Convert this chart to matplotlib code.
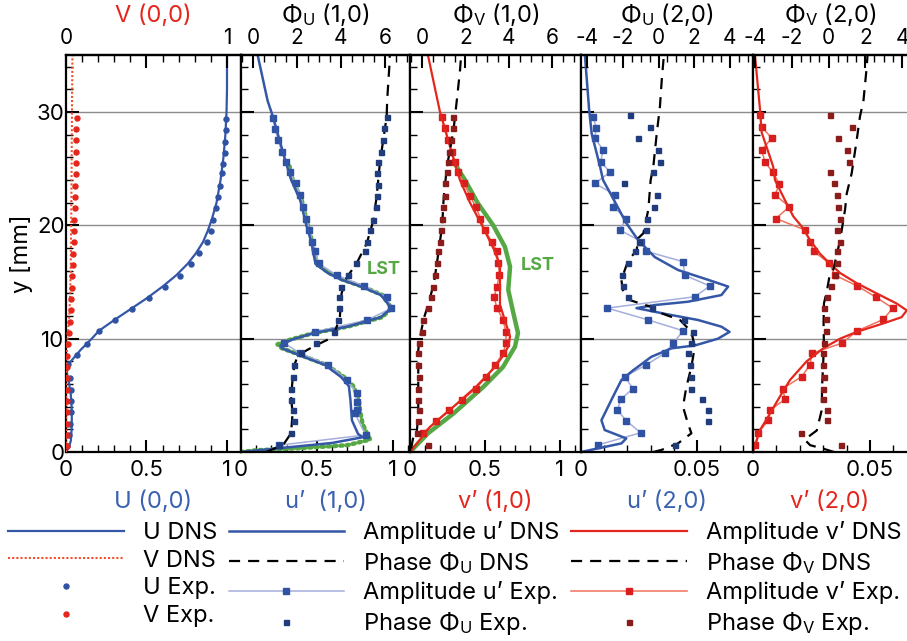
import matplotlib
matplotlib.use('Agg')
import matplotlib.pyplot as plt
from matplotlib.ticker import MultipleLocator

plt.rcParams['font.family'] = ['Inter', 'DejaVu Sans']
plt.rcParams['mathtext.fontset'] = 'custom'
plt.rcParams['mathtext.rm'] = 'Inter'
plt.rcParams['mathtext.it'] = 'Inter:italic'
plt.rcParams['mathtext.bf'] = 'Inter:bold'
plt.rcParams['axes.unicode_minus'] = False

# ---------------- data ----------------
# panel 1: mean flow U(0,0) (bottom axis) and V(0,0) (top axis)
u_dns_y = [0, 0.5, 1, 2, 3, 4, 5, 6, 6.5, 7, 7.5, 8, 8.5, 9, 9.5, 10, 10.7, 11.6, 12.6, 13.6,
           14.6, 15.6, 16.6, 17.5, 18.5, 19.5, 20.5, 22, 24, 26, 28, 30, 32, 35]
u_dns = [0, 0.02, 0.03, 0.035, 0.036, 0.035, 0.03, 0.02, 0.012, 0.006, 0.01, 0.03, 0.06, 0.09,
         0.125, 0.16, 0.205, 0.295, 0.4, 0.505, 0.6, 0.685, 0.755, 0.805, 0.85, 0.88, 0.905,
         0.935, 0.96, 0.978, 0.99, 0.997, 1.0, 1.0]
u_exp_y = [0.5, 1.5, 2.5, 3.5, 4.5, 5.5, 6.5, 7.8, 8.6, 9.5, 10.7, 11.65, 12.6, 13.6, 14.6, 15.55,
           16.55, 17.55, 18.55, 19.5, 20.5, 21.5, 22.5, 23.5, 24.6, 25.4, 26.4, 27.4, 28.4, 29.4]
u_exp = [0.005, 0.02, 0.025, 0.028, 0.03, 0.028, 0.022, 0.015, 0.066, 0.13, 0.205, 0.304, 0.408,
         0.516, 0.615, 0.708, 0.774, 0.826, 0.874, 0.899, 0.915, 0.93, 0.946, 0.956, 0.97, 0.975,
         0.985, 0.99, 0.995, 0.995]
v_dns_y = [0, 6, 8, 9, 10, 11, 12, 14, 16, 20, 25, 30, 35]
v_dns = [0, 0.001, 0.003, 0.006, 0.01, 0.015, 0.02, 0.026, 0.029, 0.032, 0.035, 0.037, 0.04]
v_exp_y = [0.5, 1.5, 2.5, 3.5, 4.5, 5.5, 6.5, 7.5, 8.5, 9.5, 10.5, 11.5, 12.5, 13.5, 14.5, 15.5,
           16.5, 17.5, 18.5, 19.5, 20.5, 21.5, 22.5, 23.5, 24.5, 25.5, 26.5, 27.5, 28.5, 29.5]
v_exp = [0.004, 0.004, 0.004, 0.004, 0.004, 0.004, 0.004, 0.004, 0.008, 0.014, 0.02, 0.026, 0.03,
         0.033, 0.035, 0.038, 0.041, 0.044, 0.047, 0.05, 0.052, 0.054, 0.056, 0.058, 0.06, 0.061,
         0.062, 0.063, 0.064, 0.066]

# panel 2: mode (1,0), u' amplitude (bottom) and phase Phi_U (top)
ua1_dns_y = [0, 0.4, 0.8, 1.3, 1.6, 2.8, 4.6, 5.8, 6.6, 7.7, 8.56, 9.15, 9.4, 9.9, 10.5, 11.06,
             11.9, 12.7, 13.85, 14.6, 15.2, 15.8, 16.6, 18.7, 20, 22.2, 24, 25.8, 29.6, 31, 35]
ua1_dns = [0, 0.3, 0.6, 0.8, 0.77, 0.73, 0.72, 0.71, 0.66, 0.55, 0.38, 0.27, 0.26, 0.33, 0.48,
           0.70, 0.92, 0.99, 0.92, 0.79, 0.66, 0.57, 0.49, 0.46, 0.43, 0.39, 0.33, 0.29, 0.21,
           0.175, 0.11]
ua1_lst_y = [0, 0.15, 0.35, 0.6, 1.1, 1.6, 2.5, 3.5, 4.6, 5.8, 6.6, 7.7, 8.56, 9.15, 9.5, 9.9,
             10.5, 11.06, 11.9, 12.7, 13.85, 14.6, 15.2, 15.8, 16.6, 18.7, 20, 22.2, 24, 25.2]
ua1_lst = [0, 0.1, 0.4, 0.7, 0.85, 0.83, 0.80, 0.785, 0.775, 0.74, 0.68, 0.56, 0.39, 0.27, 0.24,
           0.32, 0.48, 0.70, 0.93, 0.99, 0.93, 0.80, 0.67, 0.58, 0.5, 0.465, 0.44, 0.40, 0.34, 0.32]
ua1_exp_y = [0.6, 1.5, 3.4, 3.7, 4.45, 5.2, 6.35, 7.7, 8.7, 9.6, 10.6, 11.65, 12.68, 13.65, 14.65,
             15.6, 16.65, 17.7, 18.56, 19.6, 20.6, 21.6, 22.7, 23.7, 24.7, 25.6, 26.5, 27.5, 28.5,
             29.5]
ua1_exp = [0.25, 0.82, 0.75, 0.76, 0.76, 0.76, 0.70, 0.57, 0.39, 0.285, 0.49, 0.83, 0.99, 0.96,
           0.81, 0.63, 0.51, 0.49, 0.47, 0.45, 0.43, 0.41, 0.39, 0.36, 0.32, 0.294, 0.268, 0.245,
           0.226, 0.21]
pu1_dns_y = [0, 0.3, 0.76, 1.65, 3.4, 4.9, 6.35, 7.7, 8.56, 9.3, 10.15, 11.9, 14, 15.4, 16.6,
             18.4, 20.4, 22.5, 25.5, 27.5, 29.6, 31, 34, 35]
pu1_dns = [0.6, 0.97, 1.42, 1.73, 1.8, 1.73, 1.8, 1.88, 2.06, 2.74, 3.65, 3.95, 4.03, 4.26, 4.7,
           5.17, 5.47, 5.62, 5.77, 5.92, 6.08, 6.1, 6.2, 6.22]
pu1_exp_y = [0.6, 1.65, 2.7, 3.7, 4.6, 5.6, 6.65, 7.7, 8.7, 9.6, 10.6, 11.65, 12.7, 13.7, 14.6,
             15.6, 16.65, 17.7, 18.56, 19.6, 20.5, 21.6, 22.6, 23.6, 24.6, 25.6, 26.5, 27.5, 28.6,
             29.6]
pu1_exp = [1.2, 1.73, 1.85, 1.8, 1.73, 1.73, 1.8, 1.88, 2.18, 2.86, 3.7, 3.88, 3.9, 3.9, 4.0, 4.3,
           4.68, 5.1, 5.18, 5.33, 5.48, 5.6, 5.63, 5.67, 5.62, 5.7, 5.8, 5.9, 5.95, 6.08]

# panel 3: mode (1,0), v' amplitude (bottom) and phase Phi_V (top)
va1_dns_y = [0, 2.2, 4.0, 5.76, 7.5, 8.5, 9.3, 10.2, 11.6, 13, 14, 16.5, 18, 20, 22, 24, 25, 30, 35]
va1_dns = [0, 0.133, 0.29, 0.44, 0.567, 0.62, 0.655, 0.667, 0.633, 0.6, 0.6, 0.6, 0.555, 0.48,
           0.4, 0.333, 0.31, 0.2, 0.12]
va1_lst_y = [0, 1.65, 3.4, 5.76, 7.5, 9.3, 10.5, 12.2, 14.3, 16.35, 18.1, 20, 22, 24, 25.2]
va1_lst = [0, 0.12, 0.29, 0.49, 0.62, 0.70, 0.72, 0.69, 0.655, 0.667, 0.633, 0.555, 0.45, 0.367,
           0.31]
va1_exp_y = [1.65, 2.7, 3.7, 4.6, 5.6, 6.65, 7.7, 8.7, 9.6, 10.6, 11.65, 12.7, 13.65, 14.6, 15.6,
             16.65, 17.7, 18.56, 19.6, 20.6, 21.6, 22.6, 23.7, 24.7, 25.6, 26.5, 27.5, 28.6, 29.6]
va1_exp = [0.084, 0.17, 0.26, 0.35, 0.44, 0.51, 0.567, 0.62, 0.64, 0.64, 0.62, 0.58, 0.56, 0.58,
           0.595, 0.59, 0.58, 0.544, 0.5, 0.47, 0.44, 0.40, 0.36, 0.32, 0.30, 0.278, 0.255, 0.233,
           0.21]
pv1_dns_y = [0.3, 1.3, 1.7, 3.4, 6, 9, 10, 11, 12, 13.1, 14.9, 17.5, 20, 22.5, 25.2, 28.4, 31,
             33.7, 35]
pv1_dns = [-0.5, -0.4, -0.24, -0.17, -0.17, -0.17, -0.1, 0.0, 0.12, 0.3, 0.55, 0.75, 0.93, 1.0,
           1.15, 1.45, 1.6, 1.75, 1.8]
pv1_exp_y = [0.6, 1.65, 2.7, 3.7, 4.6, 5.6, 6.65, 7.7, 8.7, 9.6, 10.6, 11.65, 12.7, 13.65, 14.6,
             15.6, 16.65, 17.7, 18.56, 19.6, 20.6, 21.6, 22.6, 23.7, 24.7, 25.6, 26.5, 27.5, 28.6,
             29.6]
pv1_exp = [0.29, -0.25, -0.2, -0.15, -0.17, -0.2, -0.15, -0.17, -0.2, -0.12, -0.02, 0.06, 0.3,
           0.4, 0.5, 0.6, 0.68, 0.75, 0.82, 0.88, 0.9, 0.98, 1.06, 1.06, 1.14, 1.2, 1.26, 1.35,
           1.44, 1.44]

# panel 4: mode (2,0), u' amplitude (bottom) and phase Phi_U (top)
ua2_dns_y = [0, 0.32, 0.76, 1.2, 1.94, 2.8, 4.6, 6.35, 7.2, 8.4, 9.15, 9.4, 10.0, 10.6, 11.06,
             11.65, 12.2, 12.7, 12.97, 13.26, 13.85, 14.6, 15.2, 16.06, 17.2, 18.7, 20.2, 22.5,
             24, 25.2, 28.1, 30.2, 35]
ua2_dns = [0, 0.0073, 0.0174, 0.0195, 0.0102, 0.0088, 0.0131, 0.0174, 0.0224, 0.0303, 0.039,
           0.049, 0.059, 0.064, 0.0605, 0.0504, 0.036, 0.0239, 0.0318, 0.046, 0.0605, 0.0634,
           0.0547, 0.0418, 0.0318, 0.0246, 0.0195, 0.0135, 0.0095, 0.0082, 0.0046, 0.0035, 0.0017]
ua2_exp_y = [0.62, 1.7, 2.76, 3.7, 4.65, 5.6, 6.65, 7.7, 8.7, 9.6, 10.7, 11.65, 12.7, 13.7, 14.65,
             15.6, 16.8, 17.7, 18.56, 19.6, 20.6, 21.6, 22.7, 23.7, 24.7, 25.6, 26.65, 27.7, 28.6,
             29.6]
ua2_exp = [0.0073, 0.0257, 0.0195, 0.0157, 0.0171, 0.0224, 0.0188, 0.0282, 0.036, 0.0397, 0.044,
           0.029, 0.0114, 0.049, 0.0555, 0.0447, 0.044, 0.0282, 0.026, 0.0167, 0.0195, 0.0140,
           0.0147, 0.006, 0.0125, 0.0085, 0.0095, 0.006, 0.0065, 0.0053]
pu2_dns_y = [0, 0.18, 0.76, 1.65, 2.5, 4.0, 5.76, 7.5, 9.3, 10.2, 11.0, 11.65, 12.5, 12.8, 13.4,
             14.3, 15.2, 16.9, 17.8, 18.85, 19.3, 21.4, 24, 25.2, 28.1, 30.5, 32.8, 35]
pu2_dns = [-0.3, 0.16, 1.09, 1.84, 1.65, 1.37, 1.56, 1.84, 2.03, 1.9, 1.6, 1.2, -0.29, -0.4, -1.6,
           -2.0, -2.08, -1.7, -1.22, -1.15, -0.85, -0.57, -0.44, -0.29, -0.1, 0.08, 0.18, 0.3]
pu2_exp_y = [0.62, 2.76, 3.7, 4.65, 5.6, 6.65, 7.7, 8.7, 9.6, 10.6, 11.65, 12.7, 13.7, 14.65, 15.6,
             16.65, 17.7, 18.56, 19.6, 20.6, 21.6, 22.7, 23.7, 24.7, 25.6, 26.65, 27.7, 28.7, 29.7]
pu2_exp = [0.9, 2.77, 2.77, 2.44, 1.84, 1.8, 1.75, 1.65, 1.8, 1.93, 1.43, -0.35, -1.7, -2.0, -2.05,
           -1.7, -1.3, -1.1, -0.68, -0.66, -0.27, -0.1, -1.95, -0.29, 0.08, -0.01, -1.13, -0.48,
           -1.6]

# panel 5: mode (2,0), v' amplitude (bottom) and phase Phi_V (top)
va2_dns_y = [0, 1.94, 3.4, 4.9, 6.35, 8.0, 9.15, 10.0, 10.6, 11.35, 11.9, 12.5, 13.1, 14.0, 14.9,
             15.8, 16.6, 17.5, 18.7, 19.9, 20.8, 22.2, 24, 25.2, 26.5, 28.2, 30.2, 35]
va2_dns = [0, 0.003, 0.0073, 0.0115, 0.0158, 0.0229, 0.030, 0.0372, 0.0443, 0.0557, 0.0635,
           0.0657, 0.0614, 0.0528, 0.0443, 0.0372, 0.033, 0.0286, 0.0244, 0.0208, 0.0172, 0.0137,
           0.0094, 0.0086, 0.0065, 0.0037, 0.003, 0.00085]
va2_exp_y = [0.6, 1.7, 2.8, 3.7, 4.65, 5.6, 6.65, 7.7, 8.7, 9.6, 10.7, 11.7, 12.7, 13.65, 14.65,
             15.6, 16.65, 17.7, 18.56, 19.6, 20.6, 21.65, 22.7, 23.65, 24.7, 25.6, 26.65, 27.7,
             28.7, 29.7]
va2_exp = [0.0009, 0.0023, 0.0066, 0.0073, 0.0137, 0.0127, 0.0208, 0.0244, 0.0251, 0.0379, 0.0446,
           0.0557, 0.0597, 0.0526, 0.0446, 0.035, 0.0326, 0.026, 0.0244, 0.0222, 0.0098, 0.0155,
           0.0094, 0.0113, 0.0084, 0.0051, 0.0037, 0.0080, 0.0037, 0.003]
pv2_dns_y = [0, 0.3, 0.6, 1.1, 1.9, 3.7, 5.8, 9.3, 11.4, 13.1, 14.3, 15.5, 16.1, 18.7, 21.4, 22.8,
             24.6, 27.5, 29.6, 31, 34, 35]
pv2_dns = [0.3, -0.3, -1.0, -1.3, -0.64, -0.37, -0.35, -0.25, -0.27, -0.25, -0.08, 0.05, 0.26,
           0.63, 0.9, 0.99, 1.26, 1.53, 1.71, 1.9, 2.08, 2.12]
pv2_exp_y = [0.6, 1.65, 2.8, 3.7, 4.65, 5.6, 6.65, 7.7, 8.7, 9.6, 10.7, 11.7, 12.7, 13.65, 14.65,
             15.6, 16.65, 17.7, 18.56, 19.6, 20.6, 21.6, 22.7, 23.7, 24.7, 25.6, 26.65, 27.7, 28.7,
             29.7]
pv2_exp = [0.66, -1.5, -0.1, -0.1, -0.28, -0.32, -0.24, -0.32, -0.28, -0.24, -0.13, -0.13, -0.24,
           -0.06, 0.12, 0.36, 0.48, 0.48, 0.63, 0.45, 0.6, 0.53, 0.45, 0.28, 0.08, 1.13, 1.02,
           0.53, 1.26, 0.08]

# ---------------- styling ----------------
BLUE = '#3557a7'
BLUE_LIGHT = '#a6aedb'
BLUE_MARK = '#2f52a3'
BLUE_PHASE = '#203c7c'
RED = '#e4261c'
RED_LIGHT = '#f0705c'
RED_MARK = '#d81e1e'
RED_PHASE = '#8a1c1c'
GREEN = '#56a845'
DASH = (5, 3.6)

W, H = 907, 641
panel_px = [(66, 241), (241, 410), (410, 581), (581, 753), (753, 907)]
bot_lims = [(0, 1.087), (0, 1.112), (0, 1.14), (0, 0.0741), (0, 0.0658)]
top_lims = [(0, 1.087), (-0.545, 7.14), (-0.55, 7.31), (-4.34, 5.29), (-4.11, 4.27)]
y0 = 1 - 452 / H
hgt = (452 - 55.4) / H

fig = plt.figure(figsize=(W / 100, H / 100), dpi=100)
axes, tops = [], []
for i, (a, b) in enumerate(panel_px):
    ax = fig.add_axes([a / W, y0, (b - a) / W, hgt])
    ax.set_xlim(*bot_lims[i])
    ax.set_ylim(0, 35)
    ax.yaxis.set_major_locator(MultipleLocator(10))
    ax.yaxis.set_minor_locator(MultipleLocator(2))
    ax.grid(axis='y', which='major', color='#8c8c8c', lw=1.0, zorder=0)
    ax.set_axisbelow(True)
    for s in ax.spines.values():
        s.set_linewidth(1.6)
    if i == 4:
        ax.spines['right'].set_visible(False)
    ax.tick_params(which='major', direction='in', length=9, width=1.5, labelsize=16,
                   top=False, right=False, pad=6)
    ax.tick_params(which='minor', direction='in', length=5, width=1.0, top=False, right=False)
    ax.tick_params(axis='y', pad=1)
    if i > 0:
        ax.tick_params(axis='y', labelleft=False)
    tx = ax.twiny()
    tx.set_xlim(*top_lims[i])
    for side in ('left', 'right', 'bottom'):
        tx.spines[side].set_visible(False)
    tx.spines['top'].set_linewidth(1.6)
    tx.tick_params(which='major', direction='in', length=9, width=1.5, labelsize=15, pad=5)
    tx.tick_params(which='minor', direction='in', length=5, width=1.0)
    axes.append(ax)
    tops.append(tx)

# tick layout
for ax in axes[:3]:
    ax.set_xticks([0, 0.5, 1], ['0', '0.5', '1'])
    ax.xaxis.set_minor_locator(MultipleLocator(0.1))
for ax in axes[3:]:
    ax.set_xticks([0, 0.05], ['0', '0.05'])
    ax.xaxis.set_minor_locator(MultipleLocator(0.01))
tops[0].set_xticks([0, 0.5, 1], ['0', '', '1'])
tops[0].xaxis.set_minor_locator(MultipleLocator(0.1))
for tx in tops[1:3]:
    tx.set_xticks([0, 2, 4, 6])
    tx.xaxis.set_minor_locator(MultipleLocator(0.5))
for tx in tops[3:]:
    tx.set_xticks([-4, -2, 0, 2, 4])
    tx.xaxis.set_minor_locator(MultipleLocator(0.5))

# ---------------- curves ----------------
a1, a2, a3, a4, a5 = axes
t1, t2, t3, t4, t5 = tops

h_udns, = a1.plot(u_dns, u_dns_y, color=BLUE, lw=1.6, label='U DNS')
h_uexp, = a1.plot(u_exp, u_exp_y, ls='none', marker='o', ms=3.6, color=BLUE_MARK, label='U Exp.')
h_vdns, = t1.plot(v_dns, v_dns_y, color='#f0502e', lw=1.5, ls=(0, (1, 1)), label='V DNS')
h_vexp, = t1.plot(v_exp, v_exp_y, ls='none', marker='o', ms=3.6, color=RED, label='V Exp.')

a2.plot(ua1_lst, ua1_lst_y, color=GREEN, lw=3.2, ls=(0, (0.5, 0.9)), dash_capstyle='round')
h_ua_exp, = a2.plot(ua1_exp, ua1_exp_y, color=BLUE_LIGHT, lw=1.1, marker='s', ms=4.2,
                    mfc=BLUE_MARK, mec=BLUE_MARK, label='Amplitude u’ Exp.')
h_ua_dns, = a2.plot(ua1_dns, ua1_dns_y, color=BLUE, lw=1.8, label='Amplitude u’ DNS')
h_pu_dns, = t2.plot(pu1_dns, pu1_dns_y, color='black', lw=1.6, ls=(0, DASH),
                    label='Phase $\\Phi_\\mathrm{U}$ DNS')
h_pu_exp, = t2.plot(pu1_exp, pu1_exp_y, ls='none', marker='s', ms=3.6, color=BLUE_PHASE,
                    label='Phase $\\Phi_\\mathrm{U}$ Exp.')
a2.text(0.94, 16.1, 'LST', color=GREEN, fontsize=13, fontweight='bold', ha='center', va='center')

a3.plot(va1_lst, va1_lst_y, color=GREEN, lw=3.2)
h_va_exp, = a3.plot(va1_exp, va1_exp_y, color=RED_LIGHT, lw=1.1, marker='s', ms=4.2,
                    mfc=RED_MARK, mec=RED_MARK, label='Amplitude v’ Exp.')
h_va_dns, = a3.plot(va1_dns, va1_dns_y, color=RED, lw=1.6, label='Amplitude v’ DNS')
h_pv_dns, = t3.plot(pv1_dns, pv1_dns_y, color='black', lw=1.6, ls=(0, DASH),
                    label='Phase $\\Phi_\\mathrm{V}$ DNS')
h_pv_exp, = t3.plot(pv1_exp, pv1_exp_y, ls='none', marker='s', ms=3.6, color=RED_PHASE,
                    label='Phase $\\Phi_\\mathrm{V}$ Exp.')
a3.text(0.85, 16.5, 'LST', color=GREEN, fontsize=13, fontweight='bold', ha='center', va='center')

a4.plot(ua2_exp, ua2_exp_y, color=BLUE_LIGHT, lw=1.1, marker='s', ms=4.2, mfc=BLUE_MARK,
        mec=BLUE_MARK)
a4.plot(ua2_dns, ua2_dns_y, color=BLUE, lw=1.8)
t4.plot(pu2_dns, pu2_dns_y, color='black', lw=1.6, ls=(0, DASH))
t4.plot(pu2_exp, pu2_exp_y, ls='none', marker='s', ms=3.6, color=BLUE_PHASE)

a5.plot(va2_exp, va2_exp_y, color=RED_LIGHT, lw=1.1, marker='s', ms=4.2, mfc=RED_MARK,
        mec=RED_MARK)
a5.plot(va2_dns, va2_dns_y, color=RED, lw=1.6)
t5.plot(pv2_dns, pv2_dns_y, color='black', lw=1.6, ls=(0, DASH))
t5.plot(pv2_exp, pv2_exp_y, ls='none', marker='s', ms=3.6, color=RED_PHASE)

# ---------------- labels ----------------
bottom_labels = ['U (0,0)', 'u’  (1,0)', 'v’ (1,0)', 'u’ (2,0)', 'v’ (2,0)']
bottom_colors = ['#3a62b0', '#3a62b0', RED, '#3a62b0', RED]
top_labels = ['V (0,0)', '$\\Phi_\\mathrm{U}$ (1,0)', '$\\Phi_\\mathrm{V}$ (1,0)',
              '$\\Phi_\\mathrm{U}$ (2,0)', '$\\Phi_\\mathrm{V}$ (2,0)']
top_colors = [RED, 'black', 'black', 'black', 'black']
for ax, lab, c in zip(axes, bottom_labels, bottom_colors):
    ax.set_xlabel(lab, fontsize=17, color=c, labelpad=7)
for tx, lab, c in zip(tops, top_labels, top_colors):
    tx.set_xlabel(lab, fontsize=17, color=c, labelpad=5)
a1.set_ylabel('y [mm]', fontsize=17)
a1.yaxis.set_label_coords(-0.19, 0.5)

# ---------------- legend ----------------
handles = [h_udns, h_vdns, h_uexp, h_vexp,
           h_ua_dns, h_pu_dns, h_ua_exp, h_pu_exp,
           h_va_dns, h_pv_dns, h_va_exp, h_pv_exp]
fig.legend(handles=handles, labels=[h.get_label() for h in handles], ncol=3,
           loc='upper left', bbox_to_anchor=(8 / W, 1 - 521 / H), frameon=False, fontsize=17,
           handlelength=4.9, handletextpad=0.8, columnspacing=0.5, labelspacing=0.24,
           borderpad=0, borderaxespad=0, numpoints=1)

fig.savefig('out.png', dpi=100)
